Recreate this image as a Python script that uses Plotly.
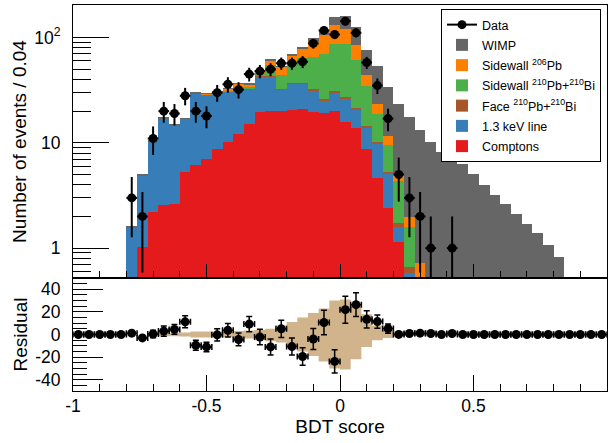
import numpy as np
import plotly.graph_objects as go

# ---------------- data (50 bins of width 0.04 from -1 to 1) ----------------
bin_edges = np.round(np.linspace(-1.0, 1.0, 51), 3)
bin_centers = np.round((bin_edges[:-1] + bin_edges[1:]) / 2, 3)
half_bin = 0.02

comptons = [0, 0, 0, 0, 0, 0, 1.03, 2.22, 2.57, 2.62, 5.26, 6.17, 7.04, 8.77, 10.2,
            12.2, 15.1, 19.6, 19.9, 19.9, 20.6, 20.9, 19.6, 19.3, 20.2, 15.7, 13.8,
            8.8, 4.64, 2.43, 1.14] + [0] * 19
line_13kev = [0] * 5 + [1.56, 3.82, 8.18, 14.4, 11.9, 11.6, 23.3, 21.8, 21.0, 20.6,
                        21.0, 16.9, 23.2, 22.9, 12.1, 15.9, 15.6, 11.7, 6.0, 9.9, 10.4,
                        6.8, 5.0, 5.29, 2.71, 0.43, 0.58, 0.05] + [0] * 17
face_pb_bi = [0] * 16 + [0.2, 0.2, 0.4, 0.6, 0.7, 0.8, 0.9, 0.9, 1.3, 1.2, 0.8, 0.7,
                         0.37, 0.19, 0.15, 0.08, 0.03] + [0] * 17
sidewall_pb_bi = [0] * 13 + [0.2, 0.5, 0.8, 1.7, 3.1, 12.1, 11.8, 22.3, 26.8, 32.7,
                             44.2, 55.7, 59.8, 39.4, 19.9, 8.5, 4.24, 2.58, 0.91,
                             0.12] + [0] * 17
sidewall_206pb = [0] * 11 + [0.2, 0.3, 0.4, 1.2, 2.5, 2.3, 1.7, 5.5, 8.2, 8.3, 14.5,
                             26.1, 36.6, 43.9, 34.9, 23.7, 10.0, 4.6, 2.13, 0.8, 0.42,
                             0.52, 0.1] + [0] * 16
wimp = [0] * 5 + [0.04, 0.1, 0.2, 0.3, 0.3, 0.3, 0.5, 0.5, 0.5, 0.5, 0.5, 0.6, 0.7,
                  1.0, 0.9, 1.4, 2.9, 8.0, 12.0, 27.0, 40.0, 40.5, 32.5, 29.9, 22.2,
                  18.4, 15.5, 12.6, 10.1, 8.2, 6.9, 6.3, 5.1, 4.0, 3.2, 2.6, 2.1, 1.7,
                  1.4, 1.07, 0.83] + [0] * 4
data_counts = [0] * 5 + [3, 2, 11, 20, 19, 28, 20, 18, 30, 36, 32, 45, 48, 50, 57, 57,
                         59, 88, 117, 107, 143, 111, 58, 35, 17, 5, 3, 2, 1, 0,
                         1] + [0] * 14

residual = [0, 0, 0, 0, 0, 1.2, -3.0, 0.4, 3.0, 4.5, 11.2, -9.5, -11.0, -0.3, 3.7,
            -4.4, 9.2, -2.2, -11.0, 5.0, -10.7, -19.5, -4.0, 10.6, -23.8, 22.0, 26.4,
            13.4, 11.4, 5.2, 0.1, 0.9, 1.2, 0.9, 0, 0.9] + [0] * 14
band_upper = [0] * 7 + [1.0, 1.5, 1.5, 1.8, 2.7, 2.7, 2.4, 2.4, 3.0, 3.5, 4.0, 5.0,
                        8.0, 11.0, 15.0, 19.0, 23.0, 30.0, 31.0, 25.0, 18.0, 8.0, 4.0,
                        2.0, 1.0, 0.5] + [0] * 17
band_lower = [0] * 7 + [1.0, 1.5, 1.5, 1.8, 2.7, 2.7, 2.4, 2.4, 3.0, 3.5, 5.0, 6.0,
                        7.0, 10.0, 15.0, 19.0, 24.0, 30.0, 31.0, 22.0, 11.0, 5.0, 3.0,
                        1.5, 1.0, 0.5] + [0] * 17

x_tick_vals = [-1, -0.5, 0, 0.5, 1]
x_tick_text = ["-1", "-0.5", "0", "0.5", "1"]
y_tick_vals = [1, 10, 100]
y_tick_text = ["1", "10", "10<sup>2</sup>"]
y_minor_vals = [0.6, 0.7, 0.8, 0.9, 2, 3, 4, 5, 6, 7, 8, 9,
                20, 30, 40, 50, 60, 70, 80, 90, 200]
res_tick_vals = [-40, -20, 0, 20, 40]
res_tick_text = ["-40", "-20", "0", "20", "40"]

# ---------------- figure ----------------
FONT = "Liberation Sans, Arial, sans-serif"
fig = go.Figure()

# stacking order bottom -> top, with legend rank (Data = 1 at top of legend)
stack = [
    ("Comptons", comptons, "#E41A1C", 7),
    ("1.3 keV line", line_13kev, "#377EB8", 6),
    ("Face <sup>210</sup>Pb+<sup>210</sup>Bi", face_pb_bi, "#A65628", 5),
    ("Sidewall <sup>210</sup>Pb+<sup>210</sup>Bi", sidewall_pb_bi, "#4DAF4A", 4),
    ("Sidewall <sup>206</sup>Pb", sidewall_206pb, "#FF7F00", 3),
    ("WIMP", wimp, "#666666", 2),
]
for i, (name, vals, color, rank) in enumerate(stack):
    fig.add_trace(go.Bar(x=bin_centers, y=vals, width=2 * half_bin, name=name,
                         legendgroup="g%d" % rank, legendrank=rank,
                         marker=dict(color=color, line=dict(width=0)),
                         xaxis="x", yaxis="y", hoverinfo="skip"))

counts = np.array(data_counts, dtype=float)
mask = counts > 0
fig.add_trace(go.Scatter(
    x=bin_centers[mask], y=counts[mask], mode="markers", showlegend=False,
    marker=dict(color="black", size=9),
    error_y=dict(type="data", array=np.sqrt(counts[mask]), color="black",
                 thickness=2, width=0),
    error_x=dict(type="data", array=[half_bin] * int(mask.sum()), color="black",
                 thickness=2, width=0),
    xaxis="x", yaxis="y"))
# legend entry for data (line + marker symbol)
fig.add_trace(go.Scatter(x=[None], y=[None], mode="lines+markers", name="Data",
                         legendgroup="g1", legendrank=1,
                         line=dict(color="black", width=2),
                         marker=dict(color="black", size=9),
                         xaxis="x", yaxis="y"))

# residual band (step fill)
up_step = list(band_upper) + [band_upper[-1]]
dn_step = [-v for v in band_lower] + [-band_lower[-1]]
fig.add_trace(go.Scatter(x=bin_edges, y=dn_step, mode="lines",
                         line=dict(width=0, shape="hv", color="#D2B48C"),
                         showlegend=False, hoverinfo="skip", xaxis="x2", yaxis="y2"))
fig.add_trace(go.Scatter(x=bin_edges, y=up_step, mode="lines",
                         line=dict(width=0, shape="hv", color="#D2B48C"),
                         fill="tonexty", fillcolor="#D2B48C",
                         showlegend=False, hoverinfo="skip", xaxis="x2", yaxis="y2"))
fig.add_trace(go.Scatter(
    x=bin_centers, y=residual, mode="markers", showlegend=False,
    marker=dict(color="black", size=9),
    error_y=dict(type="data", array=np.sqrt(counts), color="black",
                 thickness=1.5, width=3),
    error_x=dict(type="data", array=[half_bin] * 50, color="black",
                 thickness=1.5, width=3),
    xaxis="x2", yaxis="y2"))

split = (391 - 278) / 386.0
axis_common = dict(showline=True, linecolor="black", linewidth=1, mirror=True,
                   showgrid=False, zeroline=False, ticks="inside",
                   tickcolor="black", tickwidth=1, automargin=False,
                   tickfont=dict(family=FONT, size=17.5, color="black"))

fig.update_layout(
    width=610, height=443,
    margin=dict(l=73, r=3, t=5, b=52, autoexpand=False),
    paper_bgcolor="white", plot_bgcolor="white",
    barmode="stack", bargap=0,
    font=dict(family=FONT, color="black"),
    showlegend=True,
    legend=dict(x=(441 - 73) / 534.0, y=(391 - 9) / 386.0, xanchor="left",
                yanchor="top", bgcolor="white", bordercolor="black",
                borderwidth=1, font=dict(family=FONT, size=12.5, color="black"),
                itemwidth=30, traceorder="grouped", tracegroupgap=1,
                entrywidth=112, entrywidthmode="pixels"),
    xaxis=dict(axis_common, domain=[0, 1], anchor="y", range=[-1, 1],
               tickvals=x_tick_vals, showticklabels=False, ticklen=14,
               minor=dict(dtick=0.1, tick0=-1, ticklen=7, ticks="inside",
                          tickcolor="black")),
    yaxis=dict(axis_common, domain=[split, 1], anchor="x", type="log",
               range=[np.log10(0.52), np.log10(204)],
               tickvals=y_tick_vals, ticktext=y_tick_text, ticklen=36,
               ticklabelstandoff=8,
               minor=dict(tickvals=y_minor_vals, ticklen=18, ticks="inside",
                          tickcolor="black"),
               title=dict(text="Number of events / 0.04", standoff=2,
                          font=dict(family=FONT, size=19, color="black"))),
    xaxis2=dict(axis_common, domain=[0, 1], anchor="y2", range=[-1, 1],
                tickvals=x_tick_vals, ticktext=x_tick_text, ticklen=16,
                ticklabelstandoff=-1,
                minor=dict(dtick=0.1, tick0=-1, ticklen=7, ticks="inside",
                           tickcolor="black"),
                title=dict(text="BDT score", standoff=0,
                           font=dict(family=FONT, size=19, color="black"))),
    yaxis2=dict(axis_common, domain=[0, split], anchor="x2", range=[-50, 50],
                tickvals=res_tick_vals, ticktext=res_tick_text, ticklen=30,
                ticklabelstandoff=8,
                minor=dict(dtick=5, tick0=0, ticklen=14, ticks="inside",
                           tickcolor="black"),
                title=dict(text="Residual", standoff=2,
                           font=dict(family=FONT, size=19, color="black"))),
)

fig.write_html("out.html", config={"displayModeBar": False},
               post_script="document.body.style.margin='0';"
                           "document.body.style.overflow='hidden';")
